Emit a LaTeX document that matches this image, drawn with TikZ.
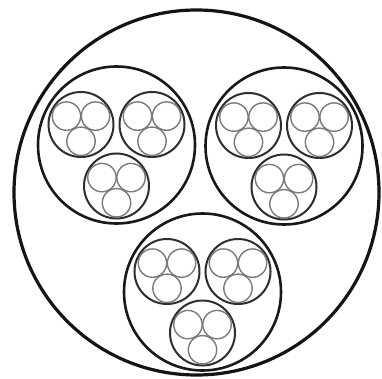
\documentclass[tikz,border=0pt]{standalone}
\begin{document}
\begin{tikzpicture}[x=1pt,y=1pt,
  outerc/.style={line width=3.2pt, black!92},
  medc/.style={line width=2.6pt, black!90},
  smallc/.style={line width=2pt, black!82},
  tinyc/.style={line width=1.4pt, black!52},
  pics/strand/.style={code={
    \draw[smallc] (0,0) circle (32.5);
    \foreach \a in {150,30,270} \draw[tinyc] (\a:16.8) circle (14.2);
  }},
  pics/bundle/.style={code={
    \draw[medc] (0,0) circle (78.5);
    \foreach \a in {150,30,270} \pic at (\a:41) {strand};
  }}]
\useasboundingbox (0,0) rectangle (382,-379);
\fill[white] (0,0) rectangle (382,-379);
\draw[outerc] (196.5,-192.5) circle (182.5);
\pic at (116.5,-145) {bundle};
\pic at (284,-146) {bundle};
\pic at (202.5,-292) {bundle};
\end{tikzpicture}
\end{document}
